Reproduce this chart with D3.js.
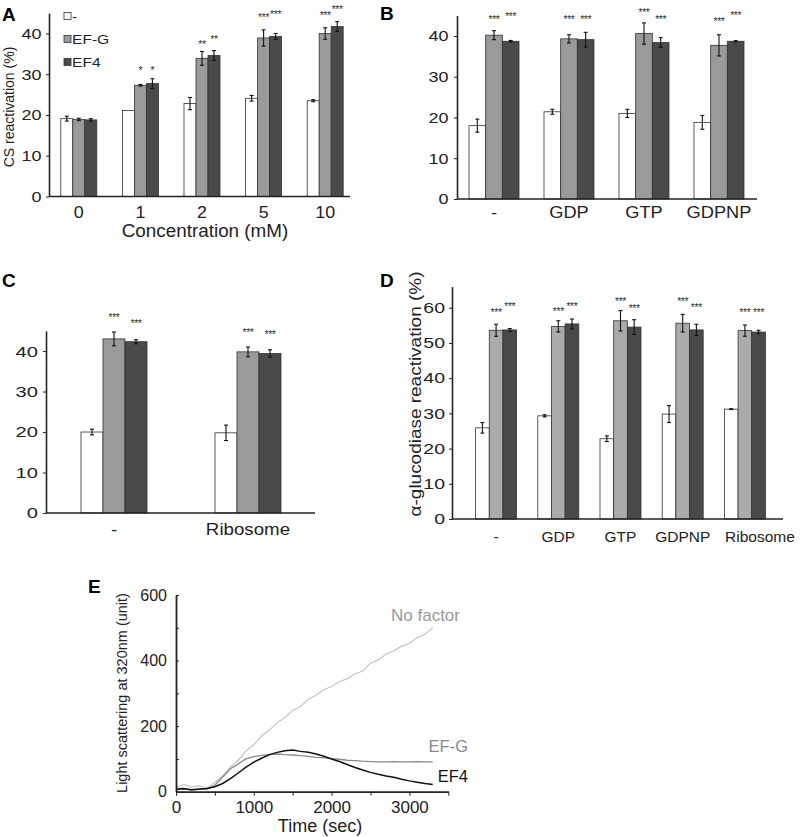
<!DOCTYPE html>
<html>
<head>
<meta charset="utf-8">
<script src="https://cdn.jsdelivr.net/npm/d3@7"></script>
<style>
  body { margin: 0; background: #fff; }
  svg { font-family: "Liberation Sans", Arial, sans-serif; }
  .axis path, .axis line { stroke: #222; }
  .axis text { fill: #222; }
</style>
</head>
<body>
<svg id="fig" width="800" height="837"></svg>
<script>
// series used in every bar panel
const seriesKeys = ["-", "EF-G", "EF4"];

// panel A : CS reactivation vs GTP concentration
const concA = ["0", "1", "2", "5", "10"];
const noneA = [19.1, 21.1, 22.8, 24.1, 23.5];
const efgA = [18.9, 27.3, 33.9, 38.9, 40.0];
const ef4A = [18.8, 27.7, 34.6, 39.3, 41.7];
const noneErrA = [0.6, 0, 1.5, 0.7, 0.25];
const efgErrA = [0.3, 0.2, 1.7, 2.0, 1.4];
const ef4ErrA = [0.3, 1.2, 1.2, 0.7, 1.2];
const starsA = [["", ""], ["*", "*"], ["**", "**"], ["***", "***"], ["***", "***"]];
const starLevelA = [[0, 0], [31.5, 31.5], [37.8, 39.1], [44.5, 45.3], [45.1, 46.6]];

// panel B : nucleotides
const nucB = ["-", "GDP", "GTP", "GDPNP"];
const noneB = [18.0, 21.4, 21.0, 18.8];
const efgB = [40.2, 39.3, 40.6, 37.7];
const ef4B = [38.7, 39.1, 38.4, 38.7];
const noneErrB = [1.6, 0.6, 1.0, 1.7];
const efgErrB = [1.1, 1.0, 2.6, 2.6];
const ef4ErrB = [0.2, 1.8, 1.2, 0.15];
const starsB = [["***", "***"], ["***", "***"], ["***", "***"], ["***", "***"]];
const starLevelB = [[44.7, 45.4], [44.6, 44.6], [46.4, 44.6], [44.1, 45.6]];

// panel C : ribosome
const groupC = ["-", "Ribosome"];
const noneC = [20.0, 19.8];
const efgC = [43.0, 39.8];
const ef4C = [42.3, 39.4];
const noneErrC = [0.7, 1.9];
const efgErrC = [1.7, 1.2];
const ef4ErrC = [0.5, 0.9];
const starsC = [["***", "***"], ["***", "***"]];
const starLevelC = [[48.9, 47.5], [45.2, 44.8]];

// panel D : alpha-glucosidase
const groupD = ["-", "GDP", "GTP", "GDPNP", "Ribosome"];
const noneD = [25.9, 29.3, 22.8, 29.8, 31.2];
const efgD = [53.6, 54.7, 56.3, 55.6, 53.5];
const ef4D = [53.7, 55.4, 54.5, 53.7, 53.1];
const noneErrD = [1.5, 0.3, 0.8, 2.4, 0.1];
const efgErrD = [1.7, 1.6, 2.9, 2.5, 1.6];
const ef4ErrD = [0.4, 1.4, 2.1, 1.6, 0.5];
const starsD = [["***", "***"], ["***", "***"], ["***", "***"], ["***", "***"], ["***", "***"]];
const starLevelD = [[59.3, 61.0], [59.5, 61.0], [62.4, 60.5], [62.4, 60.7], [59.3, 59.3]];

// panel E : light scattering, one reading every 100 s
const timeE = d3.range(0, 3301, 100);
const noFactorE = [12, 22, 14, 18, 12, 28, 48, 75, 96, 124, 143, 170, 188, 210, 226, 248, 260, 282,
                   294, 312, 320, 336, 344, 360, 368, 392, 402, 420, 430, 444, 452, 470, 480, 500];
const efgE = [6, 8, 5, 7, 8, 20, 45, 70, 85, 100, 107, 111, 113, 115, 113, 112, 110, 108,
              105, 103, 101, 99, 96, 95, 93, 92, 91, 91, 92, 91, 91, 92, 91, 91];
const ef4E = [8, 10, 6, 8, 10, 15, 25, 40, 57, 75, 90, 102, 113, 120, 125, 127, 123, 120,
              115, 108, 100, 92, 83, 74, 66, 59, 53, 48, 44, 38, 33, 29, 25, 22];

const svg = d3.select("#fig");

// the printed figure has its lettering a bit wider than Arial
function widen(sel, s) {
    sel.attr("transform", "scale(" + s + ",1)")
        .attr("x", function () { return +d3.select(this).attr("x") / s; });
}

function barPanel(p) {
    let g = svg.append("g");
    let x = d3.scaleBand().domain(p.groups).range(p.xRange);
    let inner = d3.scaleBand().domain(seriesKeys).range([-p.gw / 2, p.gw / 2]);
    let y = d3.scaleLinear().domain([0, p.yMax]).range([p.y0, p.yTop]);
    let fills = ["#ffffff", p.efgColor, "#4a4a4a"];
    let cx = (grp, k) => x(grp) + x.bandwidth() / 2 + inner(k) + inner.bandwidth() / 2;

    let rows = [];
    p.groups.forEach((grp, i) => {
        seriesKeys.forEach((k, j) => {
            rows.push({grp: grp, k: k, j: j, i: i, v: p.vals[j][i], e: p.errs[j][i]});
        });
    });

    g.selectAll("rect.bar")
        .data(rows)
        .enter().append("rect")
        .attr("class", "bar")
        .attr("x", d => x(d.grp) + x.bandwidth() / 2 + inner(d.k))
        .attr("y", d => y(d.v))
        .attr("width", inner.bandwidth())
        .attr("height", d => y(0) - y(d.v))
        .attr("fill", d => fills[d.j])
        .attr("stroke", "#333")
        .attr("stroke-width", 0.8);

    // error bars
    let eb = g.selectAll("g.err")
        .data(rows.filter(d => d.e > 0))
        .enter().append("g")
        .attr("class", "err")
        .attr("stroke", "#111")
        .attr("stroke-width", 1.1);
    eb.append("line")
        .attr("x1", d => cx(d.grp, d.k)).attr("x2", d => cx(d.grp, d.k))
        .attr("y1", d => y(d.v - d.e)).attr("y2", d => y(d.v + d.e));
    [-1, 1].forEach(s => {
        eb.append("line")
            .attr("x1", d => cx(d.grp, d.k) - 2).attr("x2", d => cx(d.grp, d.k) + 2)
            .attr("y1", d => y(d.v + s * d.e)).attr("y2", d => y(d.v + s * d.e));
    });

    // significance stars above EF-G and EF4
    let stars = [];
    p.groups.forEach((grp, i) => {
        [1, 2].forEach(j => {
            let s = p.stars[i][j - 1];
            if (s) stars.push({grp: grp, k: seriesKeys[j], s: s, lv: p.starLevels[i][j - 1]});
        });
    });
    g.selectAll("text.star")
        .data(stars)
        .enter().append("text")
        .attr("class", "star")
        .attr("x", d => cx(d.grp, d.k))
        .attr("y", d => y(d.lv) + 6)
        .attr("text-anchor", "middle")
        .attr("fill", "#333")
        .style("font-size", "10.5px")
        .style("letter-spacing", "-0.4px")
        .text(d => d.s);

    // y axis
    g.append("g")
        .attr("class", "axis")
        .attr("transform", "translate(" + p.axisX[0] + ",0)")
        .call(d3.axisLeft(y).tickValues(p.yTicks).tickSize(3).tickSizeOuter(0).tickPadding(p.yPad - 3))
        .call(a => a.select(".domain").attr("stroke-width", 1.6))
        .selectAll("text").style("font-size", p.yFont + "px")
        .call(widen, p.yWide);

    // x axis line and group labels
    g.append("line")
        .attr("x1", p.axisX[0]).attr("x2", p.axisX[1])
        .attr("y1", y(0)).attr("y2", y(0))
        .attr("stroke", "#222").attr("stroke-width", 1.6);
    let xl = g.append("g")
        .attr("class", "axis")
        .attr("transform", "translate(0," + y(0) + ")")
        .call(d3.axisBottom(x).tickSize(0).tickPadding(p.labelPad))
        .call(a => a.select(".domain").remove());
    xl.selectAll("text").style("font-size", p.xFont + "px").call(widen, p.xWide);

    return {g: g, x: x, y: y, xl: xl};
}

function panelLetter(t, xp, yp) {
    svg.append("text")
        .attr("x", xp).attr("y", yp)
        .style("font-size", "19px").style("font-weight", "bold")
        .text(t);
}

function label(g, t, xp, yp, size, wide, rot) {
    return g.append("text")
        .attr("transform", "translate(" + xp + "," + yp + ")" + (rot ? " rotate(-90)" : "") + " scale(" + wide + ",1)")
        .attr("text-anchor", "middle")
        .style("font-size", size + "px").attr("fill", "#222")
        .text(t);
}

// ---- A ----
let A = barPanel({
    groups: concA, vals: [noneA, efgA, ef4A], errs: [noneErrA, efgErrA, ef4ErrA],
    stars: starsA, starLevels: starLevelA,
    xRange: [48, 356], axisX: [49, 350], gw: 36,
    y0: 196.5, yTop: 13.1, yMax: 45, yTicks: [0, 10, 20, 30, 40],
    efgColor: "#9a9a9a", labelPad: 9, yPad: 7.5,
    yFont: 15, yWide: 1.2, xFont: 17, xWide: 1.05
});
label(A.g, "CS reactivation (%)", 14, 107, 14, 1, true);
label(A.g, "Concentration (mM)", 205, 236.5, 18.5, 1.02, false);
let legend = A.g.selectAll("g.legend")
    .data(seriesKeys)
    .enter().append("g")
    .attr("class", "legend")
    .attr("transform", (d, i) => "translate(64," + (16 + i * 23) + ")");
legend.append("rect")
    .attr("x", 0).attr("y", -3.5).attr("width", 7).attr("height", 7)
    .attr("fill", (d, i) => ["#ffffff", "#9a9a9a", "#4a4a4a"][i])
    .attr("stroke", "#333").attr("stroke-width", 0.8);
legend.append("text")
    .attr("transform", "translate(8,0) scale(1.2,1)")
    .attr("dy", "0.36em")
    .style("font-size", "13px").attr("fill", "#222")
    .text(d => d);
panelLetter("A", 2, 21);

// ---- B ----
barPanel({
    groups: nucB, vals: [noneB, efgB, ef4B], errs: [noneErrB, efgErrB, ef4ErrB],
    stars: starsB, starLevels: starLevelB,
    xRange: [456.5, 756.5], axisX: [457, 757], gw: 50,
    y0: 199, yTop: 15.6, yMax: 45, yTicks: [0, 10, 20, 30, 40],
    efgColor: "#9a9a9a", labelPad: 8, yPad: 8.5,
    yFont: 15, yWide: 1.2, xFont: 16, xWide: 1.14
});
panelLetter("B", 380, 20);

// ---- C ----
barPanel({
    groups: groupC, vals: [noneC, efgC, ef4C], errs: [noneErrC, efgErrC, ef4ErrC],
    stars: starsC, starLevels: starLevelC,
    xRange: [47, 315], axisX: [46, 315], gw: 66,
    y0: 513, yTop: 330.8, yMax: 45, yTicks: [0, 10, 20, 30, 40],
    efgColor: "#9a9a9a", labelPad: 11, yPad: 8,
    yFont: 15.5, yWide: 1.3, xFont: 16, xWide: 1.17
});
panelLetter("C", 2, 287);

// ---- D ----
let D = barPanel({
    groups: groupD, vals: [noneD, efgD, ef4D], errs: [noneErrD, efgErrD, ef4ErrD],
    stars: starsD, starLevels: starLevelD,
    xRange: [465, 776], axisX: [452, 783], gw: 41,
    y0: 519, yTop: 286.6, yMax: 66, yTicks: [0, 10, 20, 30, 40, 50, 60],
    efgColor: "#ababab", labelPad: 12, yPad: 7,
    yFont: 15, yWide: 1.3, xFont: 15.5, xWide: 1.0
});
// the last label sits to the right of its group in the original
D.xl.selectAll(".tick text").filter(d => d === "Ribosome").attr("dx", 15);
label(D.g, "α-glucodiase reactivation (%)", 421, 394, 16.5, 1.15, true);
panelLetter("D", 380, 287);

// ---- E ----
let gE = svg.append("g");
let xE = d3.scaleLinear().domain([0, 3500]).range([176, 448.3]);
let yE = d3.scaleLinear().domain([0, 600]).range([791.7, 595]);

let lineE = d3.line()
    .x((d, i) => xE(timeE[i]))
    .y(d => yE(d));

[[noFactorE, "#c4c4c4", 1.2], [efgE, "#8a8a8a", 1.3], [ef4E, "#111", 1.5]].forEach(s => {
    gE.append("path")
        .datum(s[0])
        .attr("d", lineE)
        .attr("fill", "none")
        .attr("stroke", s[1])
        .attr("stroke-width", s[2]);
});

gE.append("g")
    .attr("class", "axis")
    .attr("transform", "translate(176,0)")
    .call(d3.axisLeft(yE).tickValues(d3.range(0, 601, 100)).tickSize(-3).tickSizeOuter(0).tickPadding(9)
        .tickFormat(d => d % 200 === 0 ? d : ""))
    .call(a => a.select(".domain").attr("stroke-width", 1.8))
    .selectAll("text").style("font-size", "16px");

gE.append("g")
    .attr("class", "axis")
    .attr("transform", "translate(0,791.7)")
    .call(d3.axisBottom(xE).tickValues(d3.range(0, 3501, 500)).tickSize(4).tickSizeOuter(0).tickPadding(5)
        .tickFormat(d => d % 1000 === 0 ? d : ""))
    .call(a => a.select(".domain").attr("stroke-width", 1.8))
    .selectAll("text").style("font-size", "17px");

label(gE, "Light scattering at 320nm (unit)", 127, 693, 14.5, 1, true);
label(gE, "Time (sec)", 320, 832, 18, 1, false);

[["No factor", 460, 621, "#999", 17], ["EF-G", 468, 752, "#888", 16.5], ["EF4", 468, 782, "#111", 16.5]].forEach(l => {
    gE.append("text")
        .attr("x", l[1]).attr("y", l[2])
        .attr("text-anchor", "end")
        .style("font-size", l[4] + "px")
        .attr("fill", l[3])
        .text(l[0]);
});
panelLetter("E", 88, 593);
</script>
</body>
</html>
